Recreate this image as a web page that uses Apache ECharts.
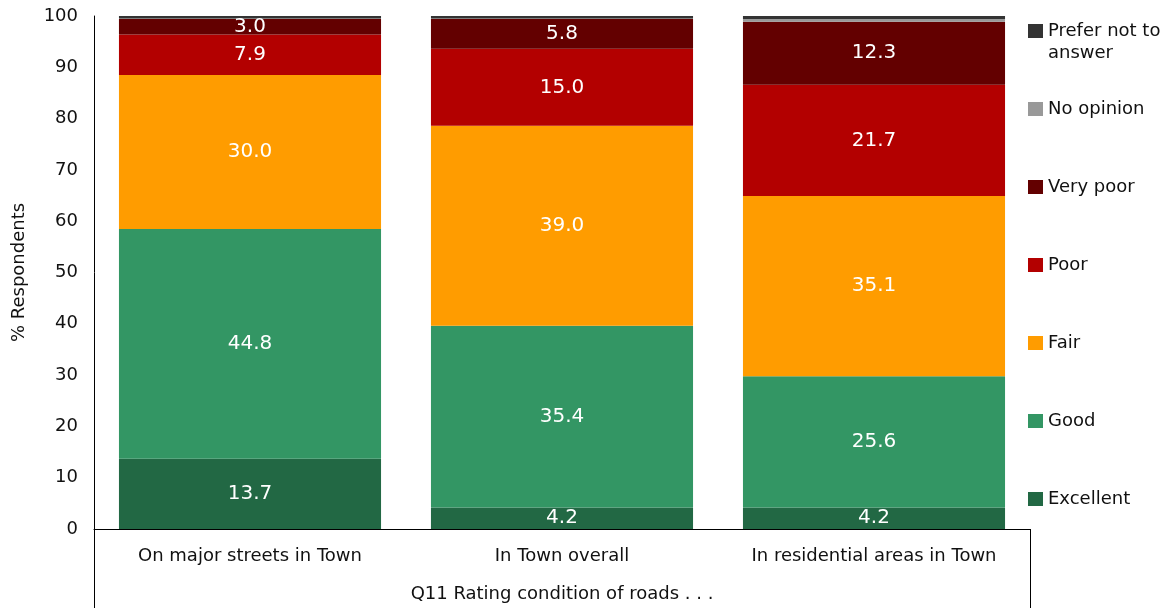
<!DOCTYPE html>
<html>
<head>
<meta charset="utf-8">
<script src="https://cdn.jsdelivr.net/npm/echarts@6/dist/echarts.min.js"></script>
<style>
  html, body { margin: 0; padding: 0; background: #fff; }
  #main { width: 1161px; height: 608px; }
</style>
</head>
<body>
<div id="main"></div>
<script>
var categories = ['On major streets in Town', 'In Town overall', 'In residential areas in Town'];
var excellent = [13.7, 4.2, 4.2];
var good = [44.8, 35.4, 25.6];
var fair = [30.0, 39.0, 35.1];
var poor = [7.9, 15.0, 21.7];
var veryPoor = [3.0, 5.8, 12.3];
var noOpinion = [0.1, 0.1, 0.5];
var preferNot = [0.5, 0.5, 0.6];
var yTicks = [0, 100, 10]; // min, max, interval
var xTitle = 'Q11 Rating condition of roads . . .';

var font = 'DejaVu Sans';

var myChart = echarts.init(document.getElementById('main'));

function mkSeries(name, data, color, showLabel) {
    return {
        name: name,
        type: 'bar',
        stack: 'total',
        barWidth: '84%',
        data: data,
        itemStyle: { color: color },
        label: {
            show: showLabel,
            position: 'inside',
            color: '#fff',
            fontFamily: font,
            fontSize: 20,
            formatter: function (p) { return p.value.toFixed(1); }
        },
        emphasis: { disabled: true }
    };
}

var series = [
    mkSeries('Excellent', excellent, '#226844', true),
    mkSeries('Good', good, '#339664', true),
    mkSeries('Fair', fair, '#ff9c00', true),
    mkSeries('Poor', poor, '#b30000', true),
    mkSeries('Very poor', veryPoor, '#630000', true),
    mkSeries('No opinion', noOpinion, '#999999', false),
    mkSeries('Prefer not to answer', preferNot, '#333333', false)
];

// legend, top to bottom (one legend per item so the spacing matches)
var legendNames = ['Prefer not to answer', 'No opinion', 'Very poor', 'Poor', 'Fair', 'Good', 'Excellent'];
var legends = legendNames.map(function (n, i) {
    var two = n === 'Prefer not to answer';
    return {
        data: [n],
        orient: 'vertical',
        left: 1028,
        top: two ? -2 : 22 + i * 78,
        padding: 0,
        itemWidth: 15,
        itemHeight: 14,
        icon: 'rect',
        selectedMode: false,
        // blank first line keeps the marker beside the first text line
        formatter: two ? '\nPrefer not to\nanswer' : '{name}',
        textStyle: {
            fontFamily: font,
            fontSize: 18,
            color: '#111',
            lineHeight: two ? 22 : 14
        }
    };
});

var option = {
    animation: false,
    grid: { left: 94, top: 16, right: 131, bottom: 79 },
    legend: legends,
    xAxis: [
        {
            type: 'category',
            data: categories,
            axisLine: { lineStyle: { color: '#000', width: 1 } },
            axisTick: { show: false },
            axisLabel: { fontFamily: font, fontSize: 18, color: '#111', margin: 18, interval: 0 }
        },
        {
            type: 'category',
            data: [xTitle],
            position: 'bottom',
            axisLine: { show: false },
            axisTick: { show: true, length: 80, lineStyle: { color: '#000', width: 1 } },
            axisLabel: { fontFamily: font, fontSize: 18, color: '#111', margin: 56 }
        }
    ],
    yAxis: {
        type: 'value',
        min: yTicks[0],
        max: yTicks[1],
        interval: yTicks[2],
        name: '% Respondents',
        nameLocation: 'middle',
        nameGap: 66,
        nameTextStyle: { fontFamily: font, fontSize: 18, color: '#111' },
        splitLine: { show: false },
        axisTick: { show: false },
        axisLine: { show: true, lineStyle: { color: '#000', width: 1 } },
        axisLabel: { fontFamily: font, fontSize: 18, color: '#111', margin: 16 }
    },
    series: series
};

myChart.setOption(option);
</script>
</body>
</html>
